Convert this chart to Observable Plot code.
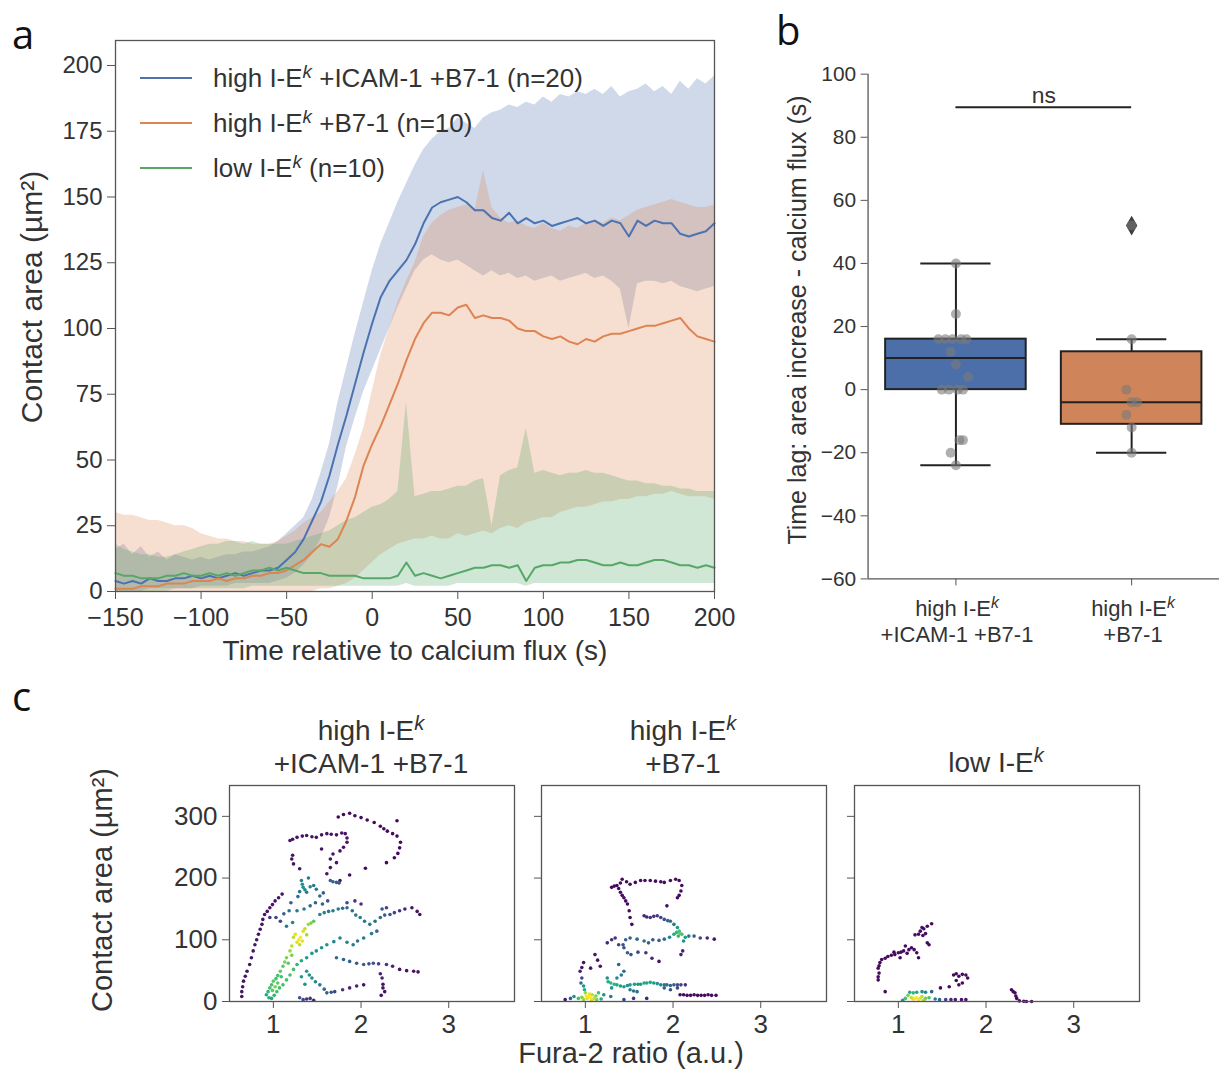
<!DOCTYPE html>
<html><head><meta charset="utf-8">
<script src="https://cdn.jsdelivr.net/npm/d3@7"></script>
<script src="https://cdn.jsdelivr.net/npm/@observablehq/plot@0.6"></script>
<style>
html,body{margin:0;padding:0;background:#fff;overflow:hidden;}
#root{position:relative;width:1219px;height:1070px;overflow:hidden;font-family:"Liberation Sans",Arial,sans-serif;color:#333;}
.abs{position:absolute;}
.lbl{position:absolute;white-space:nowrap;line-height:1;}
.ctr{transform:translate(-50%,-50%);text-align:center;}
.left{transform:translate(0,-50%);}
.rot{transform:translate(-50%,-50%) rotate(-90deg);}
.letter{position:absolute;font-family:"Open Sans","Noto Sans",sans-serif;line-height:1;color:#111;}
sup{font-size:0.72em;font-style:italic;position:relative;top:-0.5em;vertical-align:baseline;line-height:0;}
</style></head><body><div id="root"></div>
<script>
// ---------- Panel a data ----------
const timeS = [-150,-145,-140,-135,-130,-125,-120,-115,-110,-105,
  -100,-95,-90,-85,-80,-75,-70,-65,-60,-55,
  -50,-45,-40,-35,-30,-25,-20,-15,-10,-5,
  0,5,10,15,20,25,30,35,40,45,
  50,55,60,65,70,75,80,85,90,95,
  100,105,110,115,120,125,130,135,140,145,
  150,155,160,165,170,175,180,185,190,195,
  200];
const seriesNames = ["high I-E^k +ICAM-1 +B7-1 (n=20)", "high I-E^k +B7-1 (n=10)", "low I-E^k (n=10)"];
const seriesColors = ["#4C72B0", "#DD8452", "#55A868"];
const blueMean = [4,3,4,3,5,4,4,5,5,6, 5,6,5,6,7,6,7,8,8,9, 12,15,20,27,34,44,56,67,79,91,
  102,112,118,122,126,132,140,146,148,149, 150,148,145,145,142,141,144,140,142,140,
  141,139,140,141,142,140,141,139,141,140, 135,141,139,141,140,140,136,135,136,137, 140];
const blueLo = [0,0,0,0,1,1,1,1,1,1, 2,2,2,2,3,3,3,3,3,4, 5,7,10,14,20,28,40,55,66,76,
  84,92,100,108,115,122,126,128,126,125, 126,124,122,120,122,120,121,119,120,118,
  119,120,118,119,120,121,119,120,118,115, 100,117,118,118,117,118,116,115,114,115, 116];
const blueHi = [16,18,14,17,13,15,12,14,13,12, 13,12,13,14,14,15,15,16,17,19, 22,25,28,35,45,56,72,85,98,110,
  122,132,140,148,155,162,168,172,175,176, 180,178,176,180,182,183,185,184,186,185,
  188,186,189,188,190,189,191,189,192,188, 190,191,193,190,192,189,194,191,195,193, 196];
const orangeMean = [1,1,1,2,2,2,3,3,3,4, 4,4,5,4,5,5,6,6,7,7, 8,10,12,15,18,17,20,27,36,48,
  56,63,71,79,88,96,102,106,106,105, 108,109,104,105,104,104,103,100,99,99,
  97,96,97,95,94,96,95,97,98,98, 99,100,101,101,102,103,104,100,97,96, 95];
const orangeLo = [0,0,0,0,0,0,0,0,0,0, 0,0,0,0,0,0,0,0,0,0, 0,0,0,0,1,1,2,3,5,8,
  11,14,16,18,19,20,20,21,20,20, 22,21,22,23,22,24,25,24,26,27,
  28,28,30,31,32,32,33,34,34,35, 35,36,36,37,37,38,37,36,36,36, 35];
const orangeHi = [30,29,29,28,27,27,26,25,25,24, 22,21,20,20,19,19,18,18,18,19, 21,23,26,28,30,34,38,43,52,62,
  76,90,100,110,118,125,135,140,143,145, 146,147,145,160,146,142,140,141,139,138,
  140,138,137,139,138,140,141,140,142,141, 143,145,146,147,148,149,148,147,146,146, 147];
const greenMean = [7,6,6,5,5,5,6,6,7,6, 6,7,6,7,6,7,8,8,9,8, 9,8,7,7,7,6,6,6,6,5,
  5,5,5,6,11,6,7,6,5,6, 7,8,9,9,10,10,9,10,4,9,
  10,10,11,11,12,12,11,10,10,11, 10,10,11,12,12,11,10,10,9,10, 9];
const greenLo = [0,0,0,0,0,0,0,1,1,1, 1,1,1,1,1,1,2,2,2,2, 2,2,2,2,2,2,2,2,2,2,
  2,2,2,2,3,2,2,2,2,2, 3,3,3,3,3,3,3,3,2,3,
  3,3,3,3,3,3,3,3,3,3, 3,3,3,3,3,3,3,3,3,3, 3];
const greenHi = [18,16,15,14,14,13,13,14,15,16, 17,18,18,19,19,18,19,18,18,18, 18,19,20,21,22,23,25,27,28,30,
  32,33,35,38,72,36,37,38,38,39, 40,40,42,43,25,44,46,47,62,45,
  46,45,44,45,45,46,45,45,44,43, 42,42,41,41,40,40,39,39,38,38, 38];
const xTicksA = [-150,-100,-50,0,50,100,150,200];
const yTicksA = [0,25,50,75,100,125,150,175,200];

// ---------- Panel b data ----------
const boxCats = [0, 1];
const boxLabels = ["high I-E<sup>k</sup><br>+ICAM-1 +B7-1", "high I-E<sup>k</sup><br>+B7-1"];
const boxColors = ["#4C6FAA", "#D0845A"];
const boxQ1 = [0, -11];
const boxMed = [10, -4];
const boxQ3 = [16, 12];
const whiskLo = [-24, -20];
const whiskHi = [40, 16];
const stripCat = [0,0,0,0,0,0,0,0,0,0,0,0,0,0,0,0,0,0, 1,1,1,1,1,1,1,1];
const stripJit = [0,0,-0.1,-0.06,-0.02,0.03,0.06,-0.03,0,0.07,-0.08,-0.04,0.01,0.04,0.02,0.04,-0.03,0,
  0,0,-0.03,0,0.03,-0.03,0,0];
const stripVal = [40,24,16,16,16,16,16,12,8,4,0,0,0,0,-16,-16,-20,-24,
  52,16,0,-4,-4,-8,-12,-20];
const outlierCat = [1];
const outlierVal = [52];
const yTicksB = [-60,-40,-20,0,20,40,60,80,100];

// ---------- Panel c data: [fura ratio, contact area, density] ----------
const facetTitles = ["high I-E<sup>k</sup><br>+ICAM-1 +B7-1", "high I-E<sup>k</sup><br>+B7-1", "low I-E<sup>k</sup>"];
const cloud1 = [
 [1.74,299,.02],[1.80,303,.02],[1.87,305,.02],[1.93,301,.02],[2.00,298,.02],[2.07,294,.02],[2.15,290,.02],[2.22,284,.02],[2.26,280,.02],[2.30,276,.02],[2.36,272,.02],[2.41,268,.02],[2.45,258,.02],[2.44,249,.02],[2.42,240,.02],[2.38,233,.02],[2.41,293,.02],[2.29,225,.02],[2.05,216,.02],[1.87,205,.02],
 [1.19,261,.05],[1.22,263,.05],[1.27,266,.05],[1.33,268,.05],[1.38,269,.05],[1.44,267,.05],[1.49,266,.05],[1.55,270,.05],[1.61,272,.05],[1.66,271,.05],[1.72,270,.05],[1.78,273,.05],[1.82,272,.05],[1.84,265,.05],[1.84,258,.05],[1.80,250,.05],[1.76,244,.05],[1.68,239,.05],[1.65,231,.05],[1.55,247,.05],[1.21,231,.05],[1.23,223,.05],[1.22,237,.05],[1.30,215,.05],[1.65,217,.05],[1.61,207,.05],[1.76,196,.05],[1.72,225,.05],
 [1.32,196,.45],[1.33,190,.5],[1.34,185,.5],[1.36,181,.45],[1.38,177,.4],[1.30,178,.4],[1.42,186,.45],[1.46,188,.4],[1.49,182,.4],[1.53,171,.35],[1.57,176,.3],[1.65,196,.3],[1.68,194,.3],[1.72,193,.3],[1.75,192,.25],[1.40,200,.4],[1.28,170,.35],
 [1.10,174,.05],[1.06,168,.05],[1.02,163,.05],[0.99,157,.05],[0.96,152,.05],[0.93,146,.05],[0.90,141,.05],[0.88,133,.05],[0.87,125,.05],[0.85,117,.05],[0.83,109,.05],[0.81,100,.05],[0.79,92,.05],[0.77,82,.05],[0.75,71,.05],[0.73,60,.05],[0.70,49,.05],[0.68,41,.05],[0.66,33,.05],[0.65,24,.05],[0.64,16,.05],[0.64,8,.05],
 [1.29,100,1],[1.31,104,1],[1.27,96,.95],[1.34,114,.95],[1.36,118,.9],[1.40,125,.85],[1.43,127,.8],[1.46,130,.75],[1.25,109,.95],[1.23,104,.9],[1.30,92,.9],[1.33,98,.95],[1.19,82,.85],[1.21,90,.9],[1.38,108,.85],
 [1.15,71,.8],[1.13,64,.8],[1.11,57,.75],[1.08,49,.75],[1.05,42,.7],[1.03,37,.7],[1.00,33,.75],[0.98,27,.7],[0.96,22,.7],[0.94,16,.65],[0.92,11,.6],[0.95,6,.6],[0.98,5,.6],[1.01,10,.65],[1.04,16,.7],[1.07,22,.7],[1.11,27,.7],[1.15,35,.7],[1.19,43,.7],[1.23,52,.7],[1.27,60,.65],[1.32,66,.6],[1.38,71,.55],[0.99,18,.75],[1.02,24,.8],[1.05,30,.75],[1.09,40,.7],[1.17,62,.75],[1.21,75,.8],
 [1.53,141,.45],[1.58,144,.45],[1.63,146,.4],[1.68,147,.4],[1.74,150,.4],[1.79,151,.35],[1.84,152,.35],[1.90,147,.35],[1.94,140,.4],[1.99,136,.4],[2.04,130,.4],[2.10,125,.4],[2.16,130,.35],[2.22,136,.35],[2.27,140,.3],[2.33,141,.25],[2.38,144,.2],[2.44,147,.15],[2.50,150,.1],[2.58,152,.05],[2.64,146,.05],[2.67,141,.05],[2.29,152,.2],[2.24,150,.25],[2.18,114,.35],[2.12,110,.4],[2.03,103,.4],[1.96,98,.4],[1.91,92,.4],[1.84,96,.45],[1.76,103,.45],[1.69,97,.45],[1.61,92,.5],[1.55,87,.5],[1.49,82,.5],[1.44,78,.55],
 [1.72,71,.35],[1.80,68,.3],[1.87,65,.3],[1.95,62,.3],[2.03,60,.3],[2.09,61,.25],[2.14,62,.25],[2.20,61,.2],[2.29,60,.15],[2.36,57,.1],[2.44,52,.05],[2.52,50,.05],[2.60,49,.05],[2.65,48,.05],[2.24,38,.1],[2.22,45,.1],[2.25,28,.05],[2.25,22,.05],[2.27,16,.05],[2.23,10,.05],
 [1.38,49,.55],[1.41,43,.5],[1.44,38,.5],[1.48,32,.45],[1.53,27,.4],[1.58,20,.35],[1.61,14,.3],[1.66,15,.25],[1.70,16,.2],[1.79,19,.15],[1.87,22,.1],[1.95,25,.1],[2.03,27,.05],[1.42,5,.15],[1.38,4,.15],[1.34,3,.2],[1.30,6,.25],[1.46,2,.1],[1.36,28,.5],[1.32,40,.55],
 [1.08,130,.2],[1.03,136,.2],[0.96,136,.15],[1.12,142,.3],[1.18,147,.35],[1.27,147,.4],[1.35,150,.4],[1.42,155,.35],[1.48,160,.3],[1.56,158,.3],[1.62,163,.25],[1.84,160,.2],[1.93,163,.15],[2.00,158,.15],[1.20,160,.3],[1.15,122,.4],[1.22,128,.45]
];
const cloud2 = [
 [1.30,185,.03],[1.33,187,.03],[1.36,188,.03],[1.40,192,.03],[1.42,198,.03],[1.47,194,.03],[1.51,190,.03],[1.57,193,.03],[1.63,196,.03],[1.68,196,.03],[1.74,196,.03],[1.80,195,.03],[1.86,194,.03],[1.90,193,.03],[1.97,196,.03],[2.03,198,.03],[2.07,196,.03],[2.10,188,.03],[2.09,179,.03],[2.07,172,.03],[2.05,168,.03],[1.93,155,.03],[1.40,177,.03],[1.42,172,.03],[1.44,168,.03],[1.46,163,.03],[1.48,158,.03],[1.50,147,.03],[1.51,136,.03],[1.53,125,.03],[1.38,183,.03],
 [1.67,139,.1],[1.70,137,.1],[1.74,136,.15],[1.78,138,.15],[1.82,139,.15],[1.86,136,.2],[1.90,133,.25],[1.94,131,.3],[1.97,130,.35],[2.01,125,.4],[2.05,120,.55],[2.07,114,.7],[2.08,110,.75],[2.10,109,.7],[2.06,106,.65],[2.04,112,.65],[2.12,98,.5],[2.14,104,.55],[2.18,106,.4],[2.24,106,.3],[2.31,103,.2],[2.39,103,.1],[2.47,101,.05],[2.01,109,.6],[1.96,104,.45],[1.90,101,.35],[1.84,99,.3],[1.77,100,.25],[1.72,95,.3],[1.67,98,.35],[1.59,101,.3],[1.51,103,.3],[1.46,100,.3],[1.43,92,.25],
 [1.25,95,.1],[1.30,100,.15],[1.34,103,.15],[1.38,92,.2],[1.44,87,.25],[1.48,79,.3],[1.52,76,.25],[1.60,80,.2],[1.69,79,.15],[1.76,70,.1],[1.84,65,.05],[2.09,76,.1],[2.11,82,.1],[1.11,76,.05],[1.14,67,.05],[1.17,57,.05],[1.06,54,.05],[0.98,63,.05],[0.96,55,.05],[0.94,49,.1],[0.96,38,.2],[0.95,30,.35],[1.38,60,.3],[1.44,49,.35],[1.36,38,.45],[1.41,43,.4],
 [1.26,32,.6],[1.29,30,.65],[1.33,28,.65],[1.36,27,.6],[1.40,25,.55],[1.44,24,.55],[1.48,26,.5],[1.51,27,.55],[1.56,28,.55],[1.60,28,.5],[1.63,28,.55],[1.67,30,.6],[1.70,30,.6],[1.74,31,.6],[1.78,30,.55],[1.82,29,.5],[1.86,27,.45],[1.90,27,.4],[1.93,27,.35],[1.97,26,.3],[2.01,27,.3],[2.05,27,.25],[2.09,27,.2],[2.14,27,.15],[1.51,19,.4],[1.55,17,.4],[1.59,16,.35],[1.90,22,.3],[1.97,19,.25],[2.05,22,.2],[1.30,22,.5],[1.25,38,.5],
 [2.08,11,.03],[2.12,11,.03],[2.16,10,.03],[2.20,10,.03],[2.24,11,.03],[2.28,10,.03],[2.32,10,.03],[2.36,10,.03],[2.40,11,.03],[2.44,10,.03],[2.49,10,.03],
 [1.04,8,1],[1.06,6,1],[1.02,5,.95],[1.08,11,.9],[1.00,14,.85],[1.10,5,.9],[1.13,3,.8],[0.98,3,.85],[0.96,7,.8],[0.92,5,.7],[1.05,12,.95],[1.07,2,.95],[1.01,9,1],[1.12,9,.8],[0.99,19,.6],[1.15,14,.7],[0.77,3,.05],[0.83,5,.3],[0.87,8,.5],[1.21,11,.5],[1.29,8,.4],[1.44,3,.2],[1.55,5,.15],[1.70,5,.1],[1.18,4,.6],[0.98,25,.5]
];
const cloud3 = [
 [1.38,126,.03],[1.33,122,.03],[1.29,118,.03],[1.27,120,.03],[1.25,114,.03],[1.23,109,.03],[1.19,108,.03],[1.31,110,.03],[1.28,107,.03],[1.35,92,.03],[1.33,95,.03],[1.15,87,.03],[1.18,84,.03],[1.21,79,.03],[1.23,71,.03],[1.12,84,.03],[1.08,90,.03],[1.06,82,.03],[1.03,80,.03],[1.00,79,.03],[0.96,76,.03],[0.92,75,.03],[0.88,73,.03],[0.85,70,.03],[0.81,68,.03],[0.79,63,.03],[0.78,58,.03],[0.77,54,.03],[0.78,46,.03],[0.77,40,.03],[0.77,35,.03],[0.85,16,.03],[1.02,71,.03],[1.10,78,.03],[0.95,80,.03],
 [1.63,43,.03],[1.66,45,.03],[1.69,41,.03],[1.73,44,.03],[1.77,43,.03],[1.79,38,.03],[1.69,27,.03],[1.73,30,.03],[1.58,24,.03],[1.48,22,.03],[1.66,34,.03],
 [2.29,19,.03],[2.31,16,.03],[2.33,14,.03],[2.34,9,.03],[2.35,5,.03],[2.38,1,.03],[2.43,0.5,.03],[2.46,0,.03],[2.52,0,.03],
 [1.19,5,1],[1.21,6,1],[1.23,3,1],[1.17,4,.95],[1.25,5,.95],[1.15,6,.9],[1.13,15,.6],[1.17,14,.65],[1.21,15,.6],[1.27,16,.5],[1.31,15,.45],[1.38,16,.3],[1.08,5,.7],[1.11,10,.8],[1.27,8,.9],[1.31,5,.8],[1.35,6,.7],[1.42,4,.4],[1.47,3,.3],[1.54,3,.2],[1.60,3,.1],[1.65,3,.08],[1.72,3,.05],[1.77,3,.05],[1.05,2,.5],[1.29,2,.85]
];
const xTicksC = [1, 2, 3];
const yTicksC = [0, 100, 200, 300];

// ---------- helpers ----------
const root = document.getElementById("root");
const FONT = '"Liberation Sans", Arial, sans-serif';
const INK = "#333";
const AX = "#555";
function place(node, left, top) {
  const d = document.createElement("div");
  d.className = "abs"; d.style.left = left + "px"; d.style.top = top + "px";
  d.appendChild(node); root.appendChild(d);
}
function label(html, x, y, size, cls) {
  const d = document.createElement("div");
  d.className = "lbl " + cls;
  d.style.left = x + "px"; d.style.top = y + "px"; d.style.fontSize = size + "px";
  d.innerHTML = html; root.appendChild(d); return d;
}
function letter(t, x, y, size) {
  const d = document.createElement("div");
  d.className = "letter"; d.style.left = x + "px"; d.style.top = y + "px"; d.style.fontSize = size + "px";
  d.textContent = t; root.appendChild(d);
}
const sup = s => s.replace("^k", "<sup>k</sup>");

// ---------- Panel a ----------
const means = [blueMean, orangeMean, greenMean], los = [blueLo, orangeLo, greenLo], his = [blueHi, orangeHi, greenHi];
const rowsA = [];
seriesNames.forEach((name, s) => timeS.forEach((t, i) => rowsA.push({t, name, mean: means[s][i], lo: los[s][i], hi: his[s][i]})));
const plotA = Plot.plot({
  width: 740, height: 670, marginLeft: 115, marginRight: 26, marginTop: 40, marginBottom: 79,
  x: {domain: [-150, 200]}, y: {domain: [0, 209.5]},
  color: {domain: seriesNames, range: seriesColors},
  style: {fontFamily: FONT, fontSize: "25px", color: INK, background: "transparent", overflow: "visible"},
  marks: [
    Plot.areaY(rowsA, {x: "t", y1: "lo", y2: "hi", z: "name", fill: "name", fillOpacity: 0.27}),
    Plot.lineY(rowsA, {x: "t", y: "mean", z: "name", stroke: "name", strokeWidth: 2}),
    Plot.frame({stroke: AX, strokeWidth: 1.3}),
    Plot.axisX({ticks: xTicksA, tickSize: 8, tickPadding: 9, label: null, stroke: AX}),
    Plot.axisY({ticks: yTicksA, tickSize: 8, tickPadding: 5, label: null, stroke: AX, fontSize: 24})
  ]
});
place(plotA, 0, 0);
// legend
seriesNames.forEach((n, i) => {
  const y = 78 + i * 45;
  const sw = document.createElement("div");
  sw.style.cssText = `position:absolute;left:140px;top:${y - 1}px;width:52px;height:0;border-top:2px solid ${seriesColors[i]};`;
  root.appendChild(sw);
  label(sup(n), 213, y, 26, "left");
});
label("Contact area (µm²)", 32, 297, 30, "rot");
label("Time relative to calcium flux (s)", 415, 651, 28, "ctr");
letter("a", 12, 14, 40);

// ---------- Panel b ----------
const stripRows = stripVal.map((v, i) => ({x: stripCat[i] + stripJit[i], v}));
const marksB = [
  Plot.ruleX(boxCats, {x: i => i, y1: i => boxQ3[i], y2: i => whiskHi[i], stroke: "#222", strokeWidth: 2}),
  Plot.ruleX(boxCats, {x: i => i, y1: i => whiskLo[i], y2: i => boxQ1[i], stroke: "#222", strokeWidth: 2}),
  Plot.ruleY(boxCats, {y: i => whiskHi[i], x1: i => i - 0.2, x2: i => i + 0.2, stroke: "#222", strokeWidth: 2}),
  Plot.ruleY(boxCats, {y: i => whiskLo[i], x1: i => i - 0.2, x2: i => i + 0.2, stroke: "#222", strokeWidth: 2})
];
boxCats.forEach(i => {
  marksB.push(Plot.rect([i], {x1: d => d - 0.4, x2: d => d + 0.4, y1: d => boxQ1[d], y2: d => boxQ3[d], fill: boxColors[i], stroke: "#222", strokeWidth: 2}));
});
marksB.push(
  Plot.ruleY(boxCats, {y: i => boxMed[i], x1: i => i - 0.4, x2: i => i + 0.4, stroke: "#222", strokeWidth: 2}),
  Plot.dot(outlierCat, {x: i => i, y: (d, j) => outlierVal[j], symbol: "diamond", r: 6, fill: "#3d3d3d", stroke: "none"}),
  Plot.dot(stripRows, {x: "x", y: "v", r: 5, fill: "#7a7a7a", fillOpacity: 0.6, stroke: "none"}),
  Plot.ruleX([-0.5], {y1: -60, y2: 100, stroke: AX, strokeWidth: 1.3}),
  Plot.ruleY([-60], {stroke: AX, strokeWidth: 1.3}),
  Plot.axisY({ticks: yTicksB, tickSize: 7, tickPadding: 5, label: null, stroke: AX, fontSize: 21}),
  Plot.axisX({ticks: boxCats, tickSize: 7, tickFormat: () => "", label: null, stroke: AX}),
  Plot.ruleY([89.5], {x1: 0, x2: 1, stroke: "#222", strokeWidth: 2}),
  Plot.text(["ns"], {x: 0.5, y: 89.5, dy: -12, fontSize: 23, fill: INK})
);
const plotB = Plot.plot({
  width: 451, height: 660, marginLeft: 98, marginRight: 0, marginTop: 74, marginBottom: 79,
  x: {domain: [-0.5, 1.5]}, y: {domain: [-60, 100]},
  style: {fontFamily: FONT, fontSize: "21px", color: INK, background: "transparent", overflow: "visible"},
  marks: marksB
});
place(plotB, 770, 0);
label(boxLabels[0], 957, 622, 22, "ctr").style.lineHeight = "26px";
label(boxLabels[1], 1133, 622, 22, "ctr").style.lineHeight = "26px";
label("Time lag: area increase - calcium flux (s)", 797, 320, 25, "rot");
letter("b", 776, 10, 40);

// ---------- Panel c ----------
const clouds = [cloud1, cloud2, cloud3];
const facetLeft = [229, 541, 854];
clouds.forEach((cl, k) => {
  const pts = cl.map(p => ({fr: p[0], area: p[1], dens: p[2]})).sort((a, b) => a.dens - b.dens);
  const p = Plot.plot({
    width: 79 + 285, height: 260, marginLeft: 79, marginRight: 0, marginTop: 5, marginBottom: 39,
    x: {domain: [0.5, 3.75]}, y: {domain: [0, 350]},
    color: {type: "linear", scheme: "viridis", domain: [0, 1]},
    style: {fontFamily: FONT, fontSize: "26px", color: INK, background: "transparent", overflow: "visible"},
    marks: [
      Plot.dot(pts, {x: "fr", y: "area", fill: "dens", r: 1.8, stroke: "none"}),
      Plot.frame({stroke: AX, strokeWidth: 1.3}),
      Plot.axisX({ticks: xTicksC, tickSize: 7, tickPadding: 6, label: null, stroke: AX, tickFormat: d => String(d)}),
      Plot.axisY({ticks: yTicksC, tickSize: 7, tickPadding: 5, label: null, stroke: AX, tickFormat: k === 0 ? (d => String(d)) : () => ""})
    ]
  });
  place(p, facetLeft[k] - 79, 780);
  const cx = facetLeft[k] + 142;
  if (k < 2) {
    const t = label(facetTitles[k], cx, 747, 28, "ctr"); t.style.lineHeight = "33px";
  } else {
    label(facetTitles[k], cx, 763, 28, "ctr");
  }
});
label("Contact area (µm²)", 102, 890, 29, "rot");
label("Fura-2 ratio (a.u.)", 631, 1053, 29, "ctr");
letter("c", 12, 676, 40);
</script></body></html>
